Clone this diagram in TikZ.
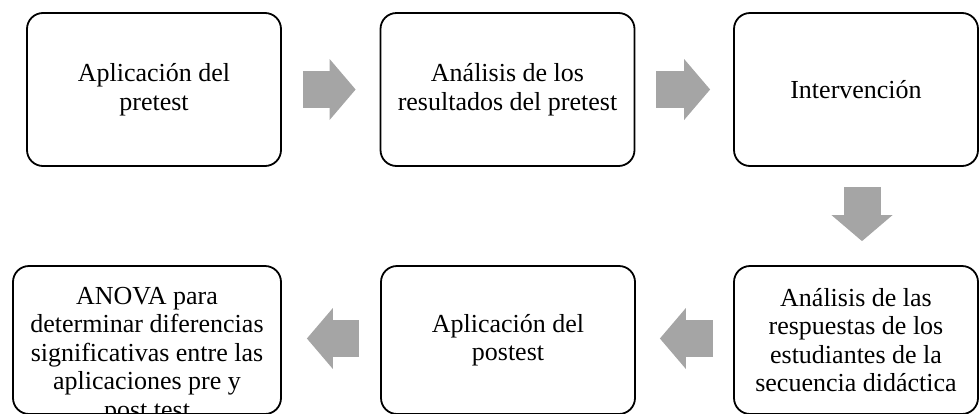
\documentclass[tikz,border=0pt]{standalone}
\usepackage{fontspec}
\setmainfont{Liberation Serif}
\usetikzlibrary{arrows.meta,positioning}
\definecolor{arrowgray}{HTML}{A5A5A5}
\tikzset{
	stepbox/.style={draw, line width=1.8pt, rounded corners=16pt, minimum width=254pt, minimum height=153pt, align=center, inner sep=4pt, font=\fontsize{26}{28.5}\selectfont},
	lowbox/.style={stepbox, minimum height=148pt},
	blockarrow/.style={color=arrowgray, line width=37pt, -{Triangle[length=26pt,width=61pt,line width=0pt]}}
}

\begin{document}
\begin{tikzpicture}[x=1pt,y=-1pt]
		\useasboundingbox (0,0) rectangle (979,413);
		\clip (0,0) rectangle (979,413);

		\node [stepbox] (pretest) at (154, 89.5) {Aplicación del\\pretest};
		\node [stepbox] (resultados) at (507.5, 89.5) {Análisis de los\\resultados del pretest};
		\node [stepbox, minimum width=244pt] (intervencion) at (856, 89.5) {Intervención};
		\node [lowbox, minimum width=244pt] (respuestas) at (856, 340) {Análisis de las\\respuestas de los\\estudiantes de la\\secuencia didáctica};
		\node [lowbox] (postest) at (508, 340) {Aplicación del\\postest};
		\node [lowbox, minimum width=268pt, inner ysep=-10pt] (anova) at (147, 340) {\rule{0pt}{48pt}ANOVA para\\determinar diferencias\\significativas entre las\\aplicaciones pre y\\post test};

		\draw [blockarrow, shorten <=21pt, shorten >=24pt] (pretest) to (resultados);
		\draw [blockarrow, shorten <=21pt, shorten >=23pt] (resultados) to (intervencion);
		\draw [blockarrow, shorten <=20pt, shorten >=24pt] ([xshift=6pt]intervencion.south) to ([xshift=6pt]respuestas.north);
		\draw [blockarrow, shorten <=20pt, shorten >=24pt] ([yshift=1.5pt]respuestas.west) to ([yshift=1.5pt]postest.east);
		\draw [blockarrow, shorten <=21pt, shorten >=25pt] ([yshift=1.5pt]postest.west) to ([yshift=1.5pt]anova.east);
\end{tikzpicture}
\end{document}
